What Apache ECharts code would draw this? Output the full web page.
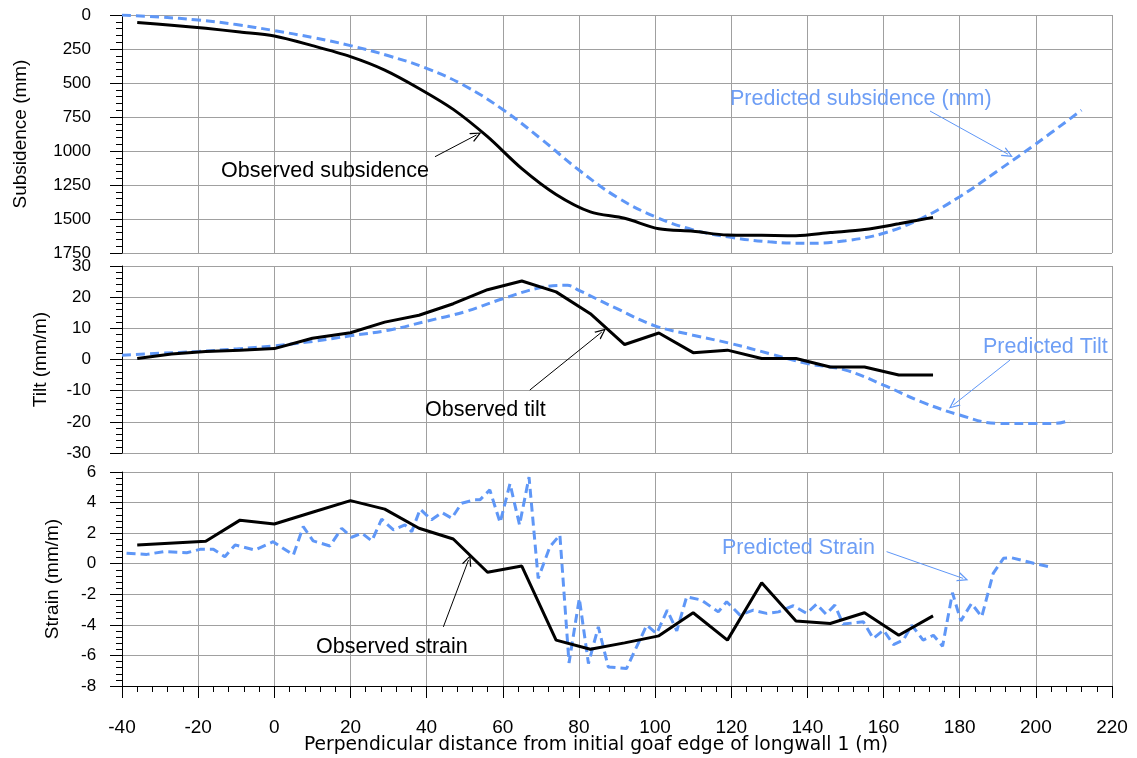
<!DOCTYPE html>
<html><head><meta charset="utf-8">
<script src="https://cdn.jsdelivr.net/npm/echarts@6/dist/echarts.min.js"></script>
<style>html,body{margin:0;padding:0;background:#fff}#c{width:1137px;height:758px}</style>
</head><body><div id="c"></div>
<script>
// ---- data ----
const xTicks = [-40,-20,0,20,40,60,80,100,120,140,160,180,200,220];

const obsSubX = [-36,-27,-18,-9,0,10,20,29,38,47,56,65,74,83,92,101,110,119,128,137,146,155,164,173];
const obsSubY = [56,75,98,125,154,225,306,405,540,694,895,1130,1320,1448,1495,1572,1590,1618,1620,1623,1600,1578,1535,1488];

const preSubX = [-40,-30,-20,-10,0,10,20,30,40,50,60,70,80,90,100,110,120,130,140,150,160,170,180,190,200,212];
const preSubY = [0,15,37,70,115,165,225,300,392,520,695,910,1140,1340,1483,1580,1635,1668,1679,1660,1605,1495,1336,1145,948,700];

const obsTiltX = [-36,-27,-18,-9,0,10,20,29,38,47,56,65,74,83,92,101,110,119,128,137,146,155,164,173];
const obsTiltY = [0.3,1.8,2.6,3.0,3.5,6.8,8.6,12.0,14.2,17.9,22.4,25.2,21.7,14.7,4.8,8.5,2.2,3.0,0.3,0.3,-2.4,-2.4,-5.0,-5.0];

const preTiltX = [-40,-30,-20,-10,0,10,20,30,40,50,60,70,77,80,90,100,110,120,130,140,150,160,170,180,190,200,205,209];
const preTiltY = [1.4,2.0,2.6,3.4,4.4,5.8,7.6,9.4,12.3,15.3,19.5,23.1,23.8,22.2,16.3,10.8,7.8,5.1,1.9,-1.3,-3.4,-8.2,-13.6,-17.8,-20.5,-20.5,-20.5,-19.5];

const obsStrainX = [-36,-18,-9,0,10,20,29,38,47,56,65,74,83,92,101,110,119,128,137,146,155,164,173];
const obsStrainY = [1.23,1.47,2.85,2.6,3.37,4.13,3.57,2.32,1.62,-0.56,-0.15,-5.0,-5.6,-5.18,-4.72,-3.21,-5.0,-1.25,-3.74,-3.91,-3.21,-4.68,-3.41];

const preStrainX = [-38.8,-33.5,-29.1,-23.0,-19.5,-16.0,-13.0,-10.3,-5.1,-0.3,5.0,7.6,10.2,14.6,17.7,20.3,23.0,25.6,28.2,31.3,34.3,36.1,38.3,41.3,44.0,46.6,49.2,52.7,54.0,56.6,59.3,61.9,64.4,66.9,69.3,72.4,75.0,77.4,80.1,82.5,85.1,87.7,92.5,97.8,100.4,103.2,105.7,108.3,112.2,116.6,118.8,122.3,125.8,129.3,132.4,136.3,139.8,142.4,144.9,147.2,149.4,154.7,157.3,160.0,162.6,165.2,167.4,170.4,173.1,175.5,178.1,180.3,183.1,185.8,188.8,191.5,193.6,199.4,204.1];
const preStrainY = [0.68,0.61,0.79,0.72,0.94,0.94,0.46,1.23,0.90,1.44,0.57,2.43,1.49,1.16,2.32,1.73,1.99,1.49,2.91,2.21,2.54,2.10,3.57,2.87,3.35,2.98,3.96,4.18,4.18,4.83,2.69,5.23,2.54,5.67,-0.96,1.12,1.88,-6.49,-2.27,-6.53,-4.13,-6.75,-6.86,-4.02,-4.57,-3.04,-4.39,-2.16,-2.38,-3.15,-2.49,-3.36,-3.04,-3.25,-3.15,-2.75,-3.25,-2.64,-3.30,-2.71,-3.95,-3.80,-4.89,-4.35,-5.29,-5.0,-4.02,-5.0,-4.68,-5.40,-1.90,-3.74,-2.60,-3.47,-0.63,0.35,0.39,0.03,-0.24];

const xTitle = 'Perpendicular distance from initial goaf edge of longwall 1 (m)';

// ---- helpers ----
const zip = (xs, ys) => xs.map((x, i) => [x, ys[i]]);
const BLUE = '#5F97F7';
const BLUE_TXT = '#6E9EF5';
const GRID = '#A0A0A0';
const FONT = "'Liberation Sans', Arial, sans-serif";
const WIDE = "'DejaVu Sans', 'Liberation Sans', sans-serif";
const OPEN_ARROW = 'path://M5,0 L10,10 L8.6,10 L5,2.6 L1.4,10 L0,10 Z';

const L = 122, R = 25;
const grids = [
  {left: L, right: R, top: 15, height: 238},
  {left: L, right: R, top: 266, height: 187},
  {left: L, right: R, top: 472, height: 214}
];

function xAxis(i, bottom) {
  return {
    type: 'value', gridIndex: i, min: -40, max: 220, interval: 20,
    axisLine: {show: bottom, onZero: false, lineStyle: {color: '#000', width: 1}},
    axisTick: {show: bottom, length: 12, lineStyle: {color: '#000'}},
    minorTick: {show: bottom, splitNumber: 5, length: 6, lineStyle: {color: '#000'}},
    axisLabel: {show: bottom, margin: 32, fontSize: 19, color: '#000', fontFamily: FONT,
      formatter: v => String(v)},
    splitLine: {show: true, lineStyle: {color: GRID, width: 1}}
  };
}
// trailing spaces push right-aligned y labels away from the axis
function yAxis(i, gapStr, opts) {
  return Object.assign({
    type: 'value', gridIndex: i,
    axisLine: {show: true, onZero: false, lineStyle: {color: '#000', width: 1}},
    axisTick: {show: true, length: 12, lineStyle: {color: '#000'}},
    minorTick: {show: true, splitNumber: 5, length: 6, lineStyle: {color: '#000'}},
    axisLabel: {fontSize: 17, color: '#000', fontFamily: FONT, margin: 14, align: 'right',
      showMinLabel: true, showMaxLabel: true, formatter: v => String(v) + gapStr},
    splitLine: {show: true, lineStyle: {color: GRID, width: 1}},
    nameLocation: 'middle',
    nameTextStyle: {fontSize: 19, color: '#000', fontFamily: FONT}
  }, opts);
}

function arrow(x1, y1, x2, y2, color) {
  return {
    silent: true, animation: false,
    symbol: ['none', OPEN_ARROW], symbolSize: [10, 11],
    label: {show: false},
    lineStyle: {color: color, width: 1, type: 'solid'},
    emphasis: {disabled: true},
    data: [[{coord: [x1, y1]}, {coord: [x2, y2]}]]
  };
}

function obsLine(name, xi, yi, xs, ys, smooth, ml) {
  return {name, type: 'line', xAxisIndex: xi, yAxisIndex: yi, data: zip(xs, ys),
    showSymbol: false, smooth: smooth, lineStyle: {color: '#000', width: 3}, z: 3,
    markLine: ml};
}
function preLine(name, xi, yi, xs, ys, smooth, ml) {
  return {name, type: 'line', xAxisIndex: xi, yAxisIndex: yi, data: zip(xs, ys),
    showSymbol: false, smooth: smooth, lineStyle: {color: BLUE, width: 3, type: [9, 5]}, z: 2,
    markLine: ml};
}
function note(text, x, y, color) {
  return {type: 'text', x: x, y: y, z: 10,
    style: {text: text, fontSize: 21.5, fill: color, fontFamily: FONT, verticalAlign: 'middle', align: 'left'}};
}

const chart = echarts.init(document.getElementById('c'));
chart.setOption({
  animation: false,
  backgroundColor: '#fff',
  grid: grids,
  xAxis: [xAxis(0, false), xAxis(1, false), xAxis(2, true)],
  yAxis: [
    yAxis(0, '\u2002\u2002', {min: 0, max: 1750, interval: 250, inverse: true, name: 'Subsidence (mm)', nameGap: 92}),
    yAxis(1, '\u2002\u2002', {min: -30, max: 30, interval: 10, name: 'Tilt (mm/m)', nameGap: 72}),
    yAxis(2, '\u2002\u2009', {min: -8, max: 6, interval: 2, name: 'Strain (mm/m)', nameGap: 60})
  ],
  series: [
    preLine('Predicted subsidence (mm)', 0, 0, preSubX, preSubY, 0.4, arrow(172.2, 706, 192.7, 1024, BLUE)),
    obsLine('Observed subsidence', 0, 0, obsSubX, obsSubY, 0.3, arrow(42.2, 1042, 53.1, 882, '#000')),
    preLine('Predicted Tilt', 1, 1, preTiltX, preTiltY, 0.4, arrow(193.2, -0.2, 178.3, -14.6, BLUE)),
    obsLine('Observed tilt', 1, 1, obsTiltX, obsTiltY, false, arrow(67.1, -9.8, 86.0, 8.8, '#000')),
    preLine('Predicted Strain', 2, 2, preStrainX, preStrainY, false, arrow(160.8, 0.79, 180.9, -0.96, BLUE)),
    obsLine('Observed strain', 2, 2, obsStrainX, obsStrainY, false, arrow(44.4, -4.13, 51.0, 0.24, '#000'))
  ],
  graphic: [
    note('Observed subsidence', 221, 171, '#000'),
    note('Predicted subsidence (mm)', 730, 99, BLUE_TXT),
    note('Observed tilt', 425, 410, '#000'),
    note('Predicted Tilt', 983, 347, BLUE_TXT),
    note('Observed strain', 316, 647, '#000'),
    note('Predicted Strain', 722, 548, BLUE_TXT),
    {type: 'text', x: 596, y: 745, z: 10,
     style: {text: xTitle, fontSize: 18.7, fill: '#000', fontFamily: WIDE, align: 'center', verticalAlign: 'middle'}}
  ]
});
</script>
</body></html>
